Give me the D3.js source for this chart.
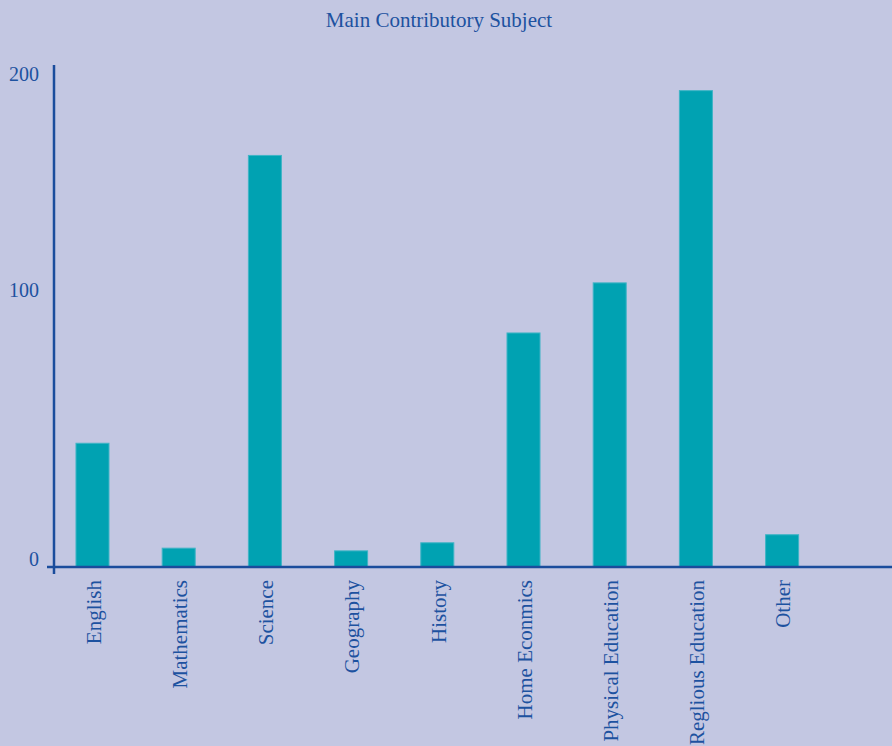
<!DOCTYPE html>
<html><head><meta charset="utf-8">
<script src="https://cdn.jsdelivr.net/npm/d3@7"></script>
<style>body{margin:0;background:#c3c7e2;} svg{display:block;}</style>
</head><body>
<script>
const categories = ["English","Mathematics","Science","Geography","History","Home Econmics","Physical Education","Reglious Education","Other"];
const values = [46, 7, 166, 6, 9, 87, 107, 196, 12];
const tickValues = [0, 100, 200];
const title = "Main Contributory Subject";

const W = 892, H = 746;
const textColor = "#1d52a0", axisColor = "#1a4c9c", barColor = "#00a2b2";
const font = "'Liberation Serif','Times New Roman',serif";

const svg = d3.select("body").append("svg").attr("width", W).attr("height", H)
  .style("background", "#c3c7e2");

const x0 = 54, baseY = 567;
const x = d3.scaleBand().domain(categories).range([x0, 820.6]).paddingInner(0.617).paddingOuter(0.255);
const y = d3.scaleLinear().domain([0, 100, 200]).range([baseY, 298, 82]);

svg.append("text").attr("x", 439).attr("y", 27).attr("text-anchor", "middle")
  .attr("font-family", font).attr("font-size", 21).attr("fill", textColor).text(title);

svg.selectAll("rect.bar").data(values).join("rect").attr("class","bar")
  .attr("x", (d,i) => x(categories[i]))
  .attr("width", x.bandwidth())
  .attr("y", d => y(d))
  .attr("height", d => baseY - y(d))
  .attr("fill", barColor).attr("stroke", "#3fb4c6").attr("stroke-width", 1);

// y axis
const yAxis = d3.axisLeft(y).tickValues(tickValues).tickSize(0).tickPadding(15);
const gy = svg.append("g").attr("transform", `translate(${x0},0)`).call(yAxis);
gy.select(".domain").remove();
gy.selectAll("text").attr("font-family", font).attr("font-size", 20).attr("fill", textColor)
  .attr("dy", "-0.1em");

svg.append("line").attr("x1", x0).attr("x2", x0).attr("y1", 65).attr("y2", baseY + 7)
  .attr("stroke", axisColor).attr("stroke-width", 2.5);
svg.append("line").attr("x1", x0 - 7).attr("x2", W).attr("y1", baseY).attr("y2", baseY)
  .attr("stroke", axisColor).attr("stroke-width", 2.5);

// x labels
svg.selectAll("text.cat").data(categories).join("text").attr("class","cat")
  .attr("transform", d => `translate(${x(d) + x.bandwidth()/2 + 1},580) rotate(-90)`)
  .attr("text-anchor", "end").attr("dy", "0.35em")
  .attr("font-family", font).attr("font-size", 21).attr("fill", textColor).text(d => d);
</script>
</body></html>
